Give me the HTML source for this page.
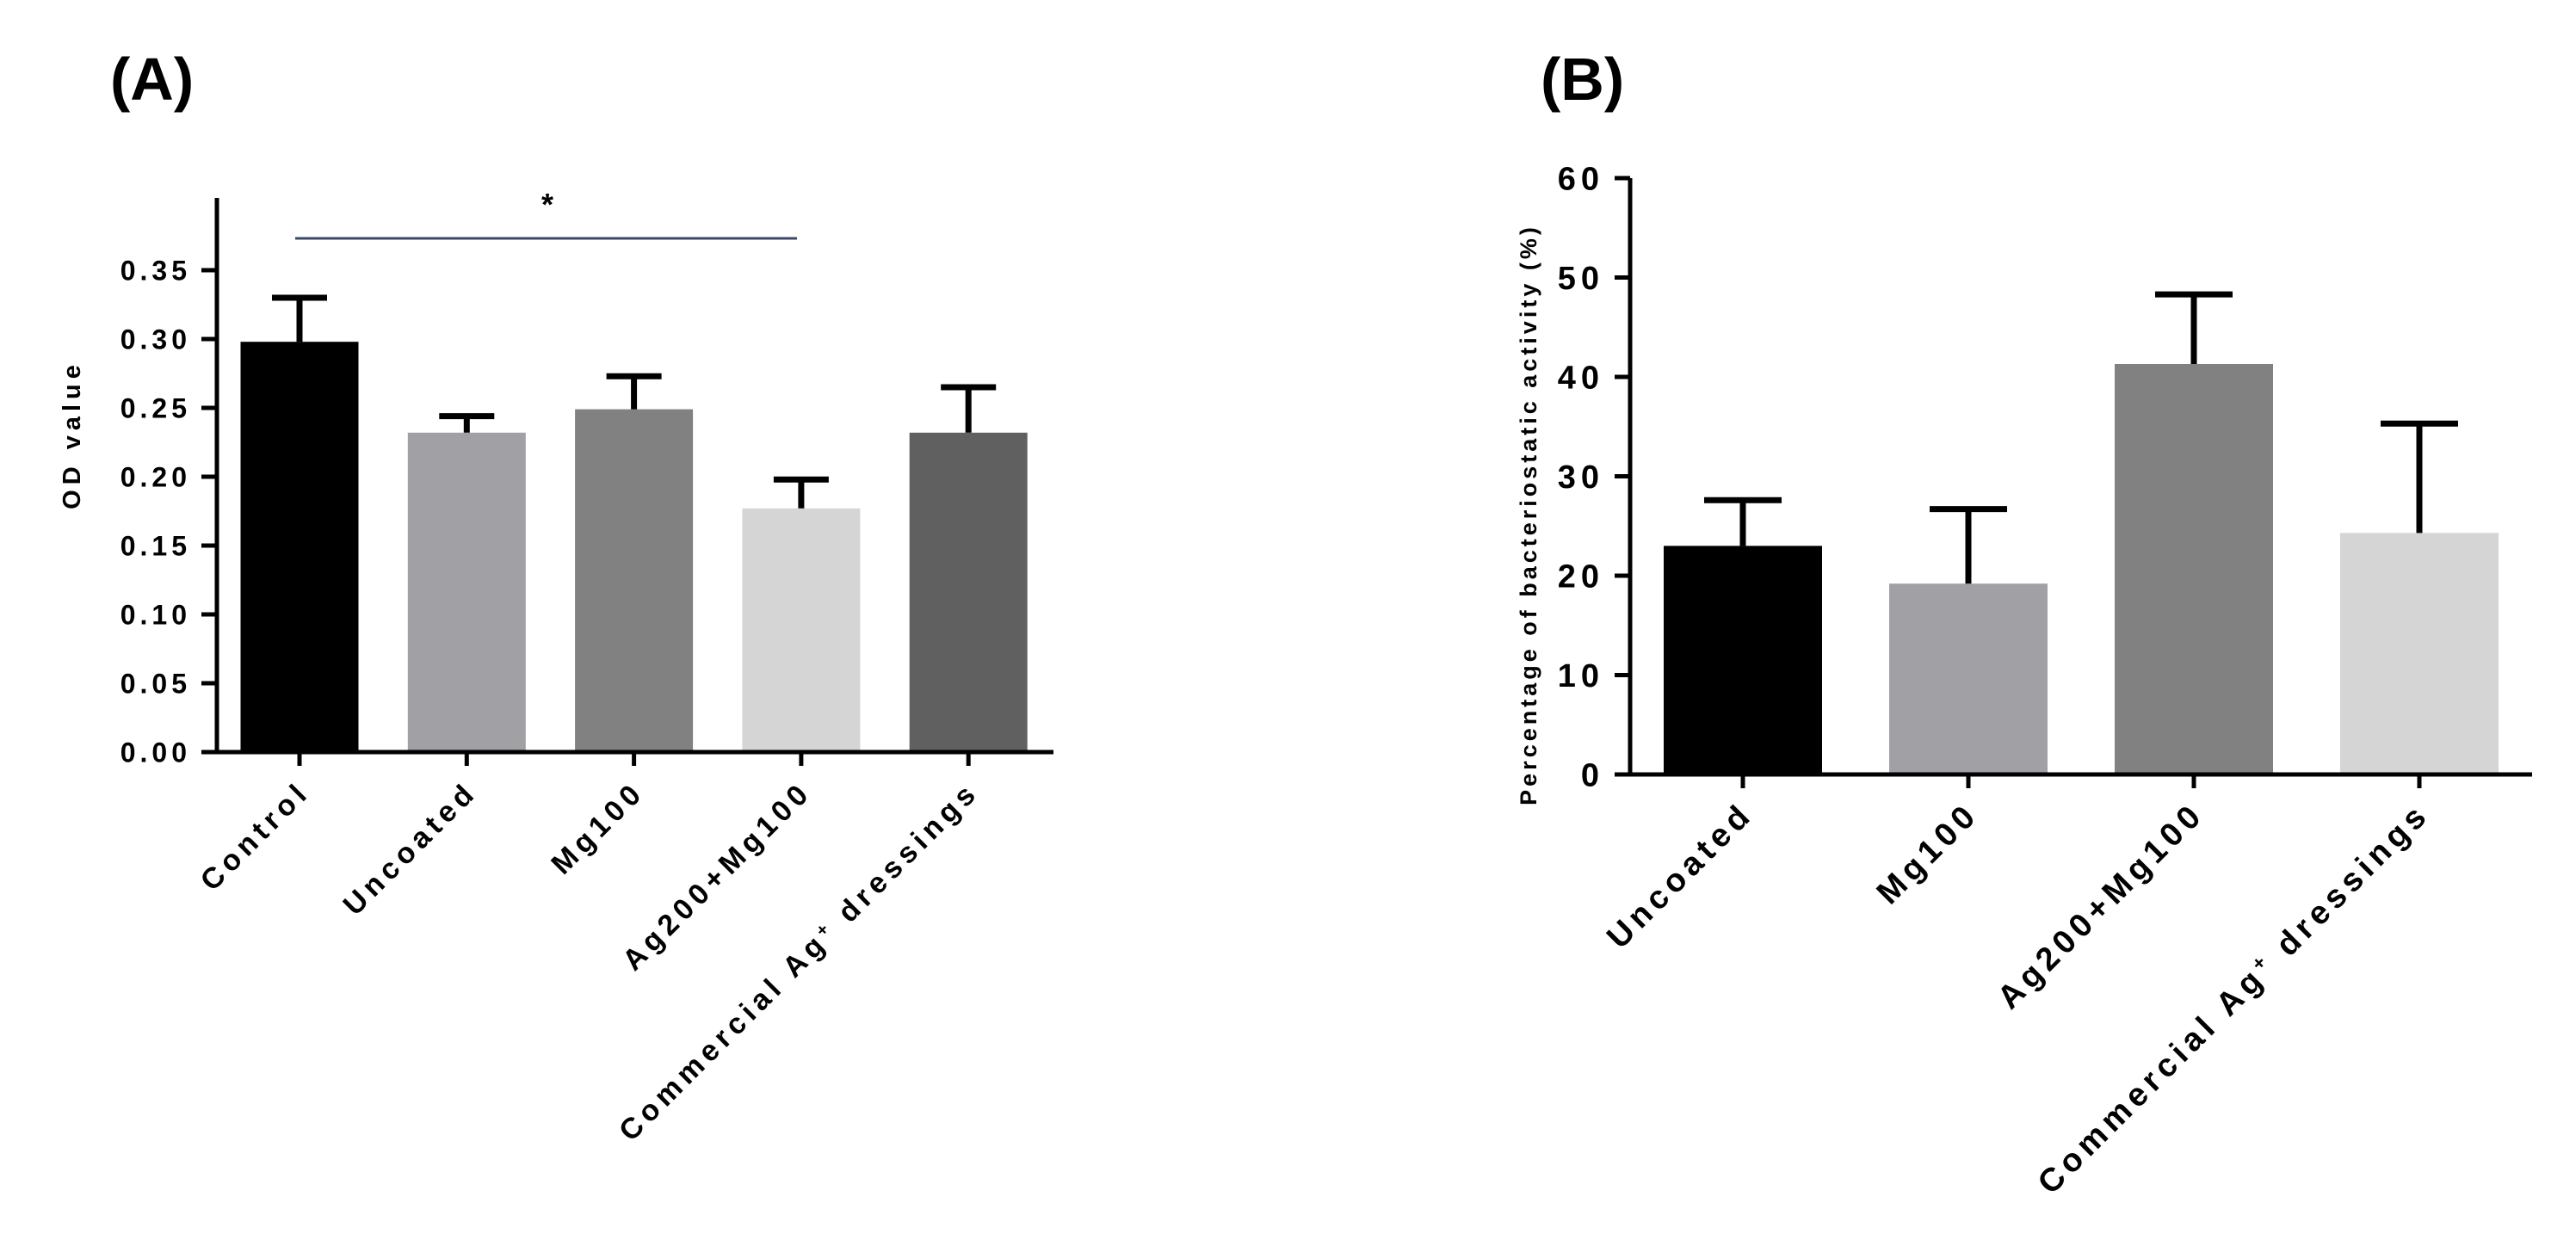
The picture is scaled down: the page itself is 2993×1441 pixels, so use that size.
<!DOCTYPE html>
<html><head><meta charset="utf-8"><style>
html,body{margin:0;padding:0;background:#fff;}
svg{display:block;font-family:"Liberation Sans",Arial,sans-serif;font-weight:bold;}
</style></head><body>
<svg id="fig" width="2993" height="1441" viewBox="0 0 2993 1441">
<text x="128" y="116" font-size="70">(A)</text>
<text x="1790" y="116" font-size="70">(B)</text>
<g id="pa"></g>
<g id="pb"></g>
</svg>
<script>
const aCats = ["Control","Uncoated","Mg100","Ag200+Mg100","Commercial Ag+ dressings"];
const aVals = [0.298,0.232,0.249,0.177,0.232];
const aErrs = [0.032,0.012,0.024,0.021,0.033];
const aTicks = [0,0.05,0.10,0.15,0.20,0.25,0.30,0.35];
const aTickLabels = ["0.00","0.05","0.10","0.15","0.20","0.25","0.30","0.35"];
const bCats = ["Uncoated","Mg100","Ag200+Mg100","Commercial Ag+ dressings"];
const bVals = [23.0,19.2,41.3,24.3];
const bErrs = [4.6,7.5,7.0,11.0];
const bTicks = [0,10,20,30,40,50,60];
const bTickLabels = ["0","10","20","30","40","50","60"];
const aColors = ["#000000","#a1a0a4","#818181","#d5d5d5","#606060"];
const bColors = ["#000000","#a1a0a4","#818181","#d5d5d5"];
const NS="http://www.w3.org/2000/svg";
function mk(p,t,at){const e=document.createElementNS(NS,t);for(const k in at)e.setAttribute(k,at[k]);p.appendChild(e);return e;}
function label(g,txt,x,y,fs,ls){
  const t=mk(g,"text",{x:x,y:y,"font-size":fs,"text-anchor":"end","letter-spacing":ls,transform:`rotate(-45 ${x} ${y})`});
  
  
  if(txt.indexOf("Ag+")>=0){
    const parts=txt.split("Ag+");
    t.appendChild(document.createTextNode(parts[0]+"Ag"));
    const s=mk(t,"tspan",{"baseline-shift":"super","font-size":fs*0.6});s.textContent="+";
    const r=mk(t,"tspan",{});r.textContent=parts[1];
  } else t.textContent=txt;
}
function chart(g,o){
  const y=v=>o.y0-(v-o.ymin)/(o.ymax-o.ymin)*(o.y0-o.ytop);
  const x=i=>o.x1+o.step*i;
  o.vals.forEach((v,i)=>{
    const r=mk(g,"rect",{x:x(i)-o.bw/2,y:y(v),width:o.bw,height:o.y0-y(v),fill:o.colors[i]});
    
    
    const e=mk(g,"path",{d:`M${x(i)} ${y(v)}V${y(v+o.errs[i])}M${x(i)-o.cw/2} ${y(v+o.errs[i])}H${x(i)+o.cw/2}`,stroke:"#000","stroke-width":o.ew,fill:"none"});
    
    
    const tk=mk(g,"line",{x1:x(i),x2:x(i),y1:o.y0,y2:o.y0+16,stroke:"#000","stroke-width":5});
    
    
    label(g,o.cats[i],x(i)+14,o.y0+48,o.xfs,o.xls);
  });
  const ax=mk(g,"path",{d:`M${o.ax} ${o.axTop}V${o.y0}M${o.ax-18} ${o.y0}H${o.axEnd}`,stroke:"#000","stroke-width":5,fill:"none"});
  
  
  o.ticks.forEach((tv,i)=>{
    const l=mk(g,"line",{x1:o.ax-18,x2:o.ax,y1:y(tv),y2:y(tv),stroke:"#000","stroke-width":5});
    
    
    const t=mk(g,"text",{x:o.ax-30,y:y(tv)+o.yfs*0.36,"font-size":o.yfs,"text-anchor":"end","letter-spacing":o.yls});
    
    
    t.textContent=o.tl[i];
  });
  const yt=mk(g,"text",{x:o.ytx,y:o.yty,"font-size":o.ytfs,"text-anchor":"middle","letter-spacing":o.ytls,transform:`rotate(-90 ${o.ytx} ${o.yty})`});
  
  
  yt.textContent=o.ytitle;
  return {x,y};
}
chart(document.getElementById("pa"),{vals:aVals,errs:aErrs,cats:aCats,colors:aColors,ticks:aTicks,tl:aTickLabels,
 ymin:0,ymax:0.35,y0:874,ytop:314,x1:348,step:194.3,bw:137,cw:64,ew:7,ax:252,axTop:230,axEnd:1224,
 xfs:34,xls:6,yfs:32,yls:5,ytx:93,yty:505,ytfs:29,ytls:6,ytitle:"OD value"});
const g=document.getElementById("pa");
const sl=mk(g,"line",{x1:343,x2:926,y1:277,y2:277,stroke:"#3c4868","stroke-width":3});


const st=mk(g,"text",{x:636,y:250,"font-size":36,"text-anchor":"middle"});


st.textContent="*";
chart(document.getElementById("pb"),{vals:bVals,errs:bErrs,cats:bCats,colors:bColors,ticks:bTicks,tl:bTickLabels,
 ymin:0,ymax:60,y0:900,ytop:207,x1:2025,step:262,bw:184,cw:90,ew:7,ax:1894,axTop:207,axEnd:2942,
 xfs:38,xls:6,yfs:38,yls:6,ytx:1785,yty:598,ytfs:27,ytls:4,ytitle:"Percentage of bacteriostatic activity (%)"});
</script>
</body></html>
